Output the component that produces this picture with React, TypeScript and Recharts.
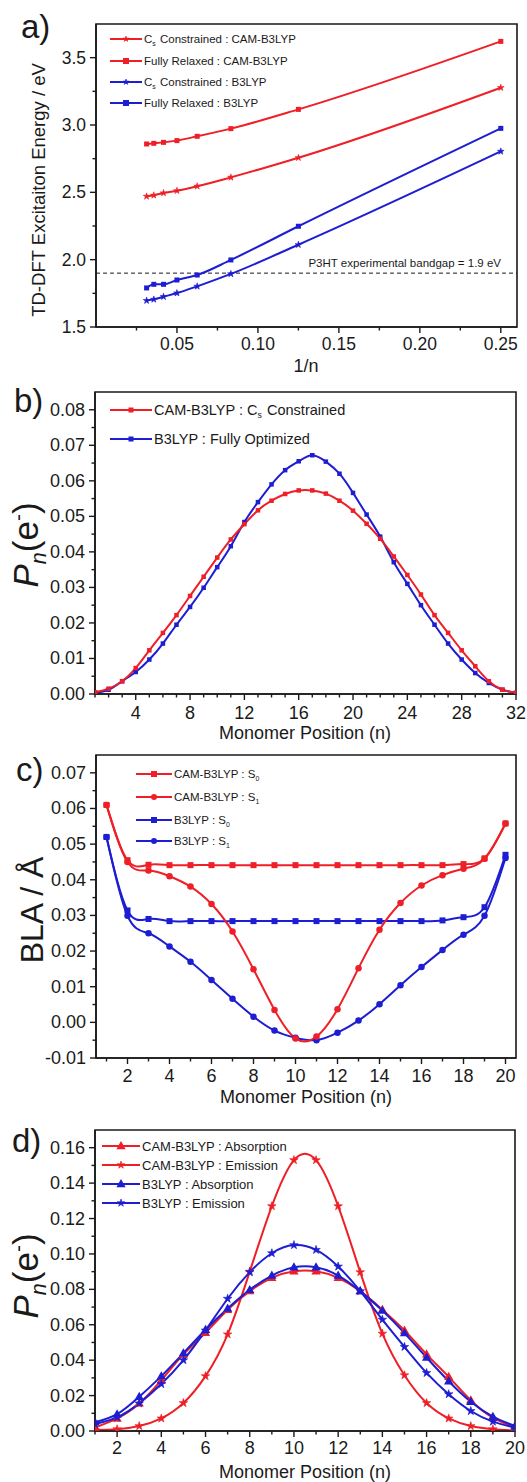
import React from 'react';
import { LineChart, Line, XAxis, YAxis, ReferenceArea, ReferenceLine, Customized } from 'recharts';

const RED = '#ee1f26';
const BLUE = '#1d1dd2';
const INK = '#1a1a1a';
const FONT = '"Liberation Sans", Arial, Helvetica, sans-serif';

// ---------------- Panel a ----------------
const aInvN = [0.03125, 0.0357, 0.0417, 0.05, 0.0625, 0.0833, 0.125, 0.25];
const aCsCam = [2.47, 2.478, 2.495, 2.512, 2.545, 2.611, 2.757, 3.277];
const aFrCam = [2.859, 2.864, 2.871, 2.884, 2.916, 2.973, 3.116, 3.621];
const aCsB3 = [1.696, 1.705, 1.725, 1.752, 1.802, 1.894, 2.111, 2.804];
const aFrB3 = [1.79, 1.817, 1.817, 1.849, 1.886, 1.998, 2.248, 2.975];
const aXMajor = [0.05, 0.1, 0.15, 0.2, 0.25];
const aXMinor = [0.025, 0.075, 0.125, 0.175, 0.225];
const aYMajor = [1.5, 2.0, 2.5, 3.0, 3.5];
const aYMinor = [1.75, 2.25, 2.75, 3.25];
const aBandgap = 1.9;

// ---------------- Panel b ----------------
const bPos = [1, 2, 3, 4, 5, 6, 7, 8, 9, 10, 11, 12, 13, 14, 15, 16, 17, 18, 19, 20, 21, 22, 23, 24, 25, 26, 27, 28, 29, 30, 31, 32];
const bCam = [0.0005, 0.0015, 0.0036, 0.0073, 0.0123, 0.0172, 0.0222, 0.0276, 0.033, 0.0384, 0.0435, 0.0478, 0.0517, 0.0544, 0.0563, 0.0573, 0.0573, 0.0564, 0.0544, 0.0516, 0.0479, 0.0437, 0.0387, 0.0335, 0.028, 0.0222, 0.0172, 0.0123, 0.0078, 0.0036, 0.0012, 0.0003];
const bB3 = [0.0003, 0.0012, 0.0036, 0.0062, 0.0097, 0.0142, 0.0195, 0.0245, 0.0299, 0.0357, 0.0416, 0.0484, 0.054, 0.059, 0.063, 0.0655, 0.0672, 0.0654, 0.062, 0.0566, 0.0505, 0.0443, 0.0371, 0.031, 0.025, 0.0195, 0.0142, 0.0097, 0.0059, 0.0031, 0.0012, 0.0003];
const bXMajor = [4, 8, 12, 16, 20, 24, 28, 32];
const bXMinor = [1, 2, 3, 5, 6, 7, 9, 10, 11, 13, 14, 15, 17, 18, 19, 21, 22, 23, 25, 26, 27, 29, 30, 31];
const bYMajor = [0, 0.01, 0.02, 0.03, 0.04, 0.05, 0.06, 0.07, 0.08];
const bYMinor = [0.005, 0.015, 0.025, 0.035, 0.045, 0.055, 0.065, 0.075];

// ---------------- Panel c ----------------
const cPos = [1, 2, 3, 4, 5, 6, 7, 8, 9, 10, 11, 12, 13, 14, 15, 16, 17, 18, 19, 20];
const cCamS0 = [0.061, 0.0455, 0.0442, 0.0441, 0.0441, 0.0441, 0.0441, 0.0441, 0.0441, 0.0441, 0.0441, 0.0441, 0.0441, 0.0441, 0.0441, 0.0441, 0.0441, 0.0444, 0.046, 0.0558];
const cCamS1 = [0.061, 0.045, 0.0426, 0.041, 0.0381, 0.0332, 0.0255, 0.0149, 0.0035, -0.0045, -0.004, 0.0037, 0.0152, 0.026, 0.0335, 0.0384, 0.0413, 0.0431, 0.0459, 0.0558];
const cB3S0 = [0.052, 0.0314, 0.029, 0.0284, 0.0284, 0.0284, 0.0284, 0.0284, 0.0284, 0.0284, 0.0284, 0.0284, 0.0284, 0.0284, 0.0284, 0.0284, 0.0286, 0.0295, 0.0323, 0.047];
const cB3S1 = [0.052, 0.0299, 0.025, 0.0213, 0.017, 0.0119, 0.0066, 0.0016, -0.0023, -0.0043, -0.005, -0.0029, 0.0005, 0.0051, 0.0104, 0.0155, 0.0203, 0.0246, 0.0299, 0.0461];
const cXMajor = [2, 4, 6, 8, 10, 12, 14, 16, 18, 20];
const cXMinor = [1, 3, 5, 7, 9, 11, 13, 15, 17, 19];
const cYMajor = [-0.01, 0, 0.01, 0.02, 0.03, 0.04, 0.05, 0.06, 0.07];
const cYMinor = [-0.005, 0.005, 0.015, 0.025, 0.035, 0.045, 0.055, 0.065];

// ---------------- Panel d ----------------
const dPos = [1, 2, 3, 4, 5, 6, 7, 8, 9, 10, 11, 12, 13, 14, 15, 16, 17, 18, 19, 20];
const dCamAbs = [0.002, 0.0071, 0.0156, 0.0287, 0.0433, 0.0555, 0.0685, 0.079, 0.0865, 0.0902, 0.0902, 0.0865, 0.079, 0.0685, 0.0568, 0.0433, 0.0306, 0.0174, 0.0075, 0.002];
const dCamEm = [0.0006, 0.001, 0.0028, 0.0071, 0.0158, 0.031, 0.0546, 0.09, 0.127, 0.153, 0.153, 0.127, 0.0897, 0.055, 0.0315, 0.0158, 0.0071, 0.0028, 0.001, 0.0002];
const dB3Abs = [0.005, 0.0095, 0.0193, 0.031, 0.044, 0.0572, 0.0692, 0.0797, 0.0878, 0.0925, 0.0925, 0.0878, 0.079, 0.068, 0.0553, 0.0415, 0.0281, 0.0165, 0.0081, 0.0028];
const dB3Em = [0.004, 0.0077, 0.0156, 0.0265, 0.04, 0.0568, 0.0747, 0.0897, 0.1004, 0.105, 0.1023, 0.0929, 0.079, 0.0629, 0.0475, 0.0328, 0.0208, 0.0113, 0.0053, 0.0019];
const dXMajor = [2, 4, 6, 8, 10, 12, 14, 16, 18, 20];
const dXMinor = [1, 3, 5, 7, 9, 11, 13, 15, 17, 19];
const dYMajor = [0, 0.02, 0.04, 0.06, 0.08, 0.1, 0.12, 0.14, 0.16];
const dYMinor = [0.01, 0.03, 0.05, 0.07, 0.09, 0.11, 0.13, 0.15];

// ---------------- tables built from arrays ----------------
const aData = aInvN.map((x, i) => ({ x, csCam: aCsCam[i], frCam: aFrCam[i], csB3: aCsB3[i], frB3: aFrB3[i] }));
const bData = bPos.map((x, i) => ({ x, cam: bCam[i], b3: bB3[i] }));
const cData = cPos.map((x, i) => ({ x, camS0: cCamS0[i], camS1: cCamS1[i], b3S0: cB3S0[i], b3S1: cB3S1[i] }));
const dData = dPos.map((x, i) => ({ x, camAbs: dCamAbs[i], camEm: dCamEm[i], b3Abs: dB3Abs[i], b3Em: dB3Em[i] }));

type Kind = 'square' | 'circle' | 'triangle' | 'star';

function Marker({ kind, cx, cy, size, color }: { kind: Kind; cx: number; cy: number; size: number; color: string }) {
  if (kind === 'square') return <rect x={cx - size / 2} y={cy - size / 2} width={size} height={size} fill={color} />;
  if (kind === 'circle') return <circle cx={cx} cy={cy} r={size / 2} fill={color} />;
  if (kind === 'triangle') {
    const h = size;
    return <polygon points={`${cx},${cy - h * 0.62} ${cx - h * 0.58},${cy + h * 0.4} ${cx + h * 0.58},${cy + h * 0.4}`} fill={color} />;
  }
  const pts: string[] = [];
  for (let i = 0; i < 10; i++) {
    const r = i % 2 === 0 ? size / 2 : size / 5.2;
    const a = -Math.PI / 2 + (i * Math.PI) / 5;
    pts.push(`${cx + r * Math.cos(a)},${cy + r * Math.sin(a)}`);
  }
  return <polygon points={pts.join(' ')} fill={color} stroke={color} strokeWidth={0.6} />;
}

const dotFn = (kind: Kind, size: number, color: string) => (p: any) => {
  if (p.cx == null || p.cy == null) return <g key={`e${p.index}`} />;
  return <Marker key={`m${p.index}`} kind={kind} cx={p.cx} cy={p.cy} size={size} color={color} />;
};

const isIn = (arr: number[], v: number) => arr.some((m) => Math.abs(m - v) < 1e-9);

const makeXTick = (majors: number[], fontSize: number, dy: number, fmt: (v: number) => string) => (props: any) => {
  const { x, y, payload } = props;
  const v = payload.value;
  const major = isIn(majors, v);
  return (
    <g>
      <line x1={x} x2={x} y1={y} y2={y + (major ? 6 : 3.5)} stroke={INK} strokeWidth={1.4} />
      {major && (
        <text x={x} y={y + dy} textAnchor="middle" dominantBaseline="central" fontSize={fontSize} fontFamily={FONT} fill={INK}>
          {fmt(v)}
        </text>
      )}
    </g>
  );
};

const makeYTick = (majors: number[], fontSize: number, fmt: (v: number) => string) => (props: any) => {
  const { x, y, payload } = props;
  const v = payload.value;
  const major = isIn(majors, v);
  return (
    <g>
      <line x1={x} x2={x - (major ? 6 : 3.5)} y1={y} y2={y} stroke={INK} strokeWidth={1.4} />
      {major && (
        <text x={x - 10} y={y} textAnchor="end" dominantBaseline="central" fontSize={fontSize} fontFamily={FONT} fill={INK}>
          {fmt(v)}
        </text>
      )}
    </g>
  );
};

type LegendRow = { color: string; kind: Kind; label: React.ReactNode };

function LegendBlock({ x0, x1, tx, ys, fs, size, rows }: { x0: number; x1: number; tx: number; ys: number[]; fs: number; size: number; rows: LegendRow[] }) {
  return (
    <g>
      {rows.map((r, i) => (
        <g key={i}>
          <line x1={x0} x2={x1} y1={ys[i]} y2={ys[i]} stroke={r.color} strokeWidth={2} />
          <Marker kind={r.kind} cx={(x0 + x1) / 2} cy={ys[i]} size={size} color={r.color} />
          <text x={tx} y={ys[i]} dominantBaseline="central" fontSize={fs} fontFamily={FONT} fill={INK}>
            {r.label}
          </text>
        </g>
      ))}
    </g>
  );
}

const Sub = ({ t, fs }: { t: string; fs: number }) => (
  <>
    <tspan fontSize={fs * 0.6} dy={fs * 0.32}>{t}</tspan>
    <tspan dy={-fs * 0.32}>{'\u200a'}</tspan>
  </>
);

function PnLabel({ x, y, fs }: { x: number; y: number; fs: number }) {
  return (
    <text x={x} y={y} transform={`rotate(-90 ${x} ${y})`} textAnchor="middle" fontSize={fs} fontFamily={FONT} fill={INK}>
      <tspan fontStyle="italic">P</tspan>
      <tspan fontStyle="italic" fontSize={fs * 0.62} dy={fs * 0.22}>n</tspan>
      <tspan dy={-fs * 0.22}>(e</tspan>
      <tspan fontSize={fs * 0.6} dy={-fs * 0.38}>-</tspan>
      <tspan dy={fs * 0.38}>)</tspan>
    </text>
  );
}

const Letter = ({ x, y, t }: { x: number; y: number; t: string }) => (
  <text x={x} y={y} fontSize={33} fontFamily={FONT} fill={INK}>{t}</text>
);

const axisStyle = { stroke: INK, strokeWidth: 1.6 };
const fmt1 = (v: number) => v.toFixed(1);
const fmt2 = (v: number) => (Math.abs(v) < 1e-12 ? '0.00' : v.toFixed(2));
const fmtInt = (v: number) => String(v);

function PanelA() {
  const leg: LegendRow[] = [
    { color: RED, kind: 'star', label: <>C<Sub t="s" fs={11.5} /> Constrained : CAM-B3LYP</> },
    { color: RED, kind: 'square', label: 'Fully Relaxed : CAM-B3LYP' },
    { color: BLUE, kind: 'star', label: <>C<Sub t="s" fs={11.5} /> Constrained : B3LYP</> },
    { color: BLUE, kind: 'square', label: 'Fully Relaxed : B3LYP' },
  ];
  return (
    <LineChart width={527} height={380} data={aData} margin={{ top: 24, right: 10, left: 0, bottom: 0 }}>
      <XAxis dataKey="x" type="number" domain={[0, 0.26]} allowDataOverflow ticks={[...aXMinor, ...aXMajor].sort((p, q) => p - q)} interval={0} height={53} tickSize={0} tickMargin={0} tickLine={false} axisLine={axisStyle} tick={makeXTick(aXMajor, 17.5, 17, fmt2)} />
      <YAxis type="number" domain={[1.5, 3.75]} allowDataOverflow ticks={[...aYMajor, ...aYMinor].sort((p, q) => p - q)} interval={0} width={96} tickSize={0} tickMargin={0} tickLine={false} axisLine={axisStyle} tick={makeYTick(aYMajor, 17.5, fmt1)} />
      <ReferenceArea x1={0} x2={0.26} y1={1.5} y2={3.75} fill="none" fillOpacity={0} stroke={INK} strokeWidth={1.6} ifOverflow="visible" />
      <ReferenceLine y={aBandgap} stroke={INK} strokeWidth={1} strokeDasharray="4 3" />
      <Line dataKey="frCam" type="monotone" stroke={RED} strokeWidth={2} isAnimationActive={false} dot={dotFn('square', 5, RED)} />
      <Line dataKey="csCam" type="monotone" stroke={RED} strokeWidth={2} isAnimationActive={false} dot={dotFn('star', 7, RED)} />
      <Line dataKey="frB3" type="monotone" stroke={BLUE} strokeWidth={2} isAnimationActive={false} dot={dotFn('square', 5, BLUE)} />
      <Line dataKey="csB3" type="monotone" stroke={BLUE} strokeWidth={2} isAnimationActive={false} dot={dotFn('star', 7, BLUE)} />
      <Customized
        component={() => (
          <g>
            <Letter x={21} y={38} t="a)" />
            <text x={38} y={190} transform="rotate(-90 38 190)" textAnchor="middle" dominantBaseline="central" fontSize={18.5} fontFamily={FONT} fill={INK}>
              TD-DFT Excitaiton Energy / eV
            </text>
            <text x={306} y={366} textAnchor="middle" dominantBaseline="central" fontSize={18} fontFamily={FONT} fill={INK}>1/n</text>
            <text x={501} y={263} textAnchor="end" dominantBaseline="central" fontSize={11.5} fontFamily={FONT} fill={INK}>P3HT experimental bandgap = 1.9 eV</text>
            <LegendBlock x0={110} x1={142} tx={144} ys={[39, 61, 82, 103]} fs={11.5} size={6} rows={leg} />
          </g>
        )}
      />
    </LineChart>
  );
}

function PanelB() {
  const leg: LegendRow[] = [
    { color: RED, kind: 'square', label: <>CAM-B3LYP : C<Sub t="s" fs={14.5} /> Constrained</> },
    { color: BLUE, kind: 'square', label: 'B3LYP : Fully Optimized' },
  ];
  return (
    <LineChart width={527} height={365} data={bData} margin={{ top: 12, right: 11, left: 0, bottom: 0 }}>
      <XAxis dataKey="x" type="number" domain={[1, 32]} allowDataOverflow ticks={[...bXMinor, ...bXMajor].sort((p, q) => p - q)} interval={0} height={51} tickSize={0} tickMargin={0} tickLine={false} axisLine={axisStyle} tick={makeXTick(bXMajor, 18, 19, fmtInt)} />
      <YAxis type="number" domain={[0, 0.085]} allowDataOverflow ticks={[...bYMajor, ...bYMinor].sort((p, q) => p - q)} interval={0} width={95} tickSize={0} tickMargin={0} tickLine={false} axisLine={axisStyle} tick={makeYTick(bYMajor, 18, fmt2)} />
      <ReferenceArea x1={1} x2={32} y1={0} y2={0.085} fill="none" fillOpacity={0} stroke={INK} strokeWidth={1.6} ifOverflow="visible" />
      <Line dataKey="b3" type="natural" stroke={BLUE} strokeWidth={2} isAnimationActive={false} dot={dotFn('square', 4.5, BLUE)} />
      <Line dataKey="cam" type="natural" stroke={RED} strokeWidth={2} isAnimationActive={false} dot={dotFn('square', 4.5, RED)} />
      <Customized
        component={() => (
          <g>
            <Letter x={14} y={32} t="b)" />
            <PnLabel x={38} y={165} fs={35} />
            <text x={305} y={353} textAnchor="middle" dominantBaseline="central" fontSize={18} fontFamily={FONT} fill={INK}>Monomer Position (n)</text>
            <LegendBlock x0={110} x1={152} tx={154} ys={[30, 59]} fs={14.5} size={5} rows={leg} />
          </g>
        )}
      />
    </LineChart>
  );
}

function PanelC() {
  const fs = 11.5;
  const leg: LegendRow[] = [
    { color: RED, kind: 'square', label: <>CAM-B3LYP : S<Sub t="0" fs={fs} /></> },
    { color: RED, kind: 'circle', label: <>CAM-B3LYP : S<Sub t="1" fs={fs} /></> },
    { color: BLUE, kind: 'square', label: <>B3LYP : S<Sub t="0" fs={fs} /></> },
    { color: BLUE, kind: 'circle', label: <>B3LYP : S<Sub t="1" fs={fs} /></> },
  ];
  return (
    <LineChart width={527} height={372} data={cData} margin={{ top: 10, right: 11, left: 0, bottom: 0 }}>
      <XAxis dataKey="x" type="number" domain={[0.5, 20.5]} allowDataOverflow ticks={[...cXMinor, ...cXMajor].sort((p, q) => p - q)} interval={0} height={59} tickSize={0} tickMargin={0} tickLine={false} axisLine={axisStyle} tick={makeXTick(cXMajor, 18, 18, fmtInt)} />
      <YAxis type="number" domain={[-0.01, 0.075]} allowDataOverflow ticks={[...cYMajor, ...cYMinor].sort((p, q) => p - q)} interval={0} width={96} tickSize={0} tickMargin={0} tickLine={false} axisLine={axisStyle} tick={makeYTick(cYMajor, 18, fmt2)} />
      <ReferenceArea x1={0.5} x2={20.5} y1={-0.01} y2={0.075} fill="none" fillOpacity={0} stroke={INK} strokeWidth={1.6} ifOverflow="visible" />
      <Line dataKey="b3S0" type="natural" stroke={BLUE} strokeWidth={2} isAnimationActive={false} dot={dotFn('square', 6, BLUE)} />
      <Line dataKey="b3S1" type="natural" stroke={BLUE} strokeWidth={2} isAnimationActive={false} dot={dotFn('circle', 6.5, BLUE)} />
      <Line dataKey="camS0" type="natural" stroke={RED} strokeWidth={2} isAnimationActive={false} dot={dotFn('square', 6, RED)} />
      <Line dataKey="camS1" type="natural" stroke={RED} strokeWidth={2} isAnimationActive={false} dot={dotFn('circle', 6.5, RED)} />
      <Customized
        component={() => (
          <g>
            <Letter x={16} y={36} t="c)" />
            <text x={43} y={165} transform="rotate(-90 43 165)" textAnchor="middle" fontSize={32} fontFamily={FONT} fill={INK}>BLA / Å</text>
            <text x={306} y={352} textAnchor="middle" dominantBaseline="central" fontSize={18} fontFamily={FONT} fill={INK}>Monomer Position (n)</text>
            <LegendBlock x0={136} x1={172} tx={174} ys={[29, 52, 75, 96]} fs={fs} size={6} rows={leg} />
          </g>
        )}
      />
    </LineChart>
  );
}

function PanelD() {
  const leg: LegendRow[] = [
    { color: RED, kind: 'triangle', label: 'CAM-B3LYP : Absorption' },
    { color: RED, kind: 'star', label: 'CAM-B3LYP : Emission' },
    { color: BLUE, kind: 'triangle', label: 'B3LYP : Absorption' },
    { color: BLUE, kind: 'star', label: 'B3LYP : Emission' },
  ];
  return (
    <LineChart width={527} height={377} data={dData} margin={{ top: 25, right: 12, left: 0, bottom: 0 }}>
      <XAxis dataKey="x" type="number" domain={[1, 20]} allowDataOverflow ticks={[...dXMinor, ...dXMajor].sort((p, q) => p - q)} interval={0} height={51} tickSize={0} tickMargin={0} tickLine={false} axisLine={axisStyle} tick={makeXTick(dXMajor, 18, 17, fmtInt)} />
      <YAxis type="number" domain={[0, 0.17]} allowDataOverflow ticks={[...dYMajor, ...dYMinor].sort((p, q) => p - q)} interval={0} width={95} tickSize={0} tickMargin={0} tickLine={false} axisLine={axisStyle} tick={makeYTick(dYMajor, 18, fmt2)} />
      <ReferenceArea x1={1} x2={20} y1={0} y2={0.17} fill="none" fillOpacity={0} stroke={INK} strokeWidth={1.6} ifOverflow="visible" />
      <Line dataKey="camAbs" type="natural" stroke={RED} strokeWidth={2} isAnimationActive={false} dot={dotFn('triangle', 8, RED)} />
      <Line dataKey="camEm" type="natural" stroke={RED} strokeWidth={2} isAnimationActive={false} dot={dotFn('star', 9, RED)} />
      <Line dataKey="b3Abs" type="natural" stroke={BLUE} strokeWidth={2} isAnimationActive={false} dot={dotFn('triangle', 8, BLUE)} />
      <Line dataKey="b3Em" type="natural" stroke={BLUE} strokeWidth={2} isAnimationActive={false} dot={dotFn('star', 9, BLUE)} />
      <Customized
        component={() => (
          <g>
            <Letter x={12} y={47} t="d)" />
            <PnLabel x={38} y={171} fs={35} />
            <text x={305} y={367} textAnchor="middle" dominantBaseline="central" fontSize={18} fontFamily={FONT} fill={INK}>Monomer Position (n)</text>
            <LegendBlock x0={102} x1={140} tx={142} ys={[41, 60, 79, 98]} fs={13} size={8} rows={leg} />
          </g>
        )}
      />
    </LineChart>
  );
}

export default function App() {
  return (
    <div style={{ position: 'absolute', left: 0, top: 0, width: 527, height: 1482, background: '#fff', overflow: 'hidden' }}>
      <div style={{ position: 'absolute', left: 0, top: 0 }}><PanelA /></div>
      <div style={{ position: 'absolute', left: 0, top: 380 }}><PanelB /></div>
      <div style={{ position: 'absolute', left: 0, top: 745 }}><PanelC /></div>
      <div style={{ position: 'absolute', left: 0, top: 1105 }}><PanelD /></div>
    </div>
  );
}
